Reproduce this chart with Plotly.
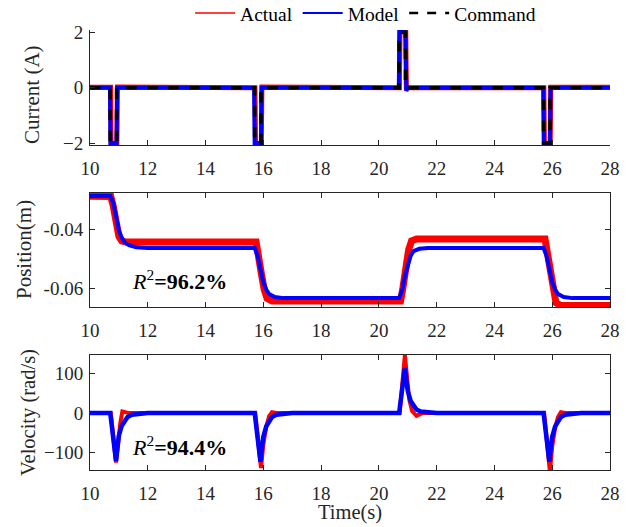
import plotly.graph_objects as go

# ---------------- data ----------------
t_cur_cmd = [10, 10.7, 10.7, 10.92, 10.92, 15.7, 15.7, 15.92, 15.92, 20.7, 20.7, 20.92, 20.92, 25.7, 25.7, 25.92, 25.92, 28]
i_cmd = [0, 0, -2, -2, 0, 0, -2, -2, 0, 0, 2, 2, 0, 0, -2, -2, 0, 0]

t_cur_model = [10, 10.69, 10.71, 10.92, 10.94, 15.68, 15.70, 15.92, 15.94, 20.69, 20.71, 20.92, 20.95, 21.0, 25.69, 25.71, 25.92, 25.94, 28]
i_model = [0, 0, -2.0, -2.0, 0, 0, -2.0, -2.0, 0, 0, 2.1, 2.0, -0.12, 0, 0, -2.0, -2.0, 0, 0]

t_cur_act = [10, 10.71, 10.73, 10.93, 10.95, 15.71, 15.73, 15.93, 15.95, 20.71, 20.73, 20.93, 20.95, 25.71, 25.73, 25.93, 25.95, 28]
i_act = [0.01, 0.01, -2.05, -2.07, 0.02, 0.0, -2.05, -2.07, 0.02, 0.0, 2.02, 2.0, 0.0, 0.0, -2.05, -2.08, 0.01, 0.01]

t_pos_model = [10, 10.7, 10.8, 10.9, 11.0, 11.1, 11.2, 11.35, 11.6, 12.0,
               15.7, 15.8, 15.9, 16.0, 16.1, 16.2, 16.4, 16.7,
               20.7, 20.8, 20.9, 21.0, 21.1, 21.2, 21.4, 21.7,
               25.7, 25.8, 25.9, 26.0, 26.1, 26.2, 26.4, 26.7, 28]
p_model = [-0.0288, -0.0288, -0.031, -0.036, -0.0405, -0.043, -0.0445, -0.0455, -0.0462, -0.0464,
           -0.0464, -0.049, -0.054, -0.058, -0.0605, -0.062, -0.0630, -0.0634,
           -0.0634, -0.061, -0.056, -0.052, -0.049, -0.0475, -0.0467, -0.0464,
           -0.0464, -0.049, -0.054, -0.058, -0.0605, -0.062, -0.0630, -0.0634, -0.0634]

t_pos_act = [10, 10.72, 10.8, 10.9, 11.0, 11.1, 11.25,
             15.75, 15.83, 15.93, 16.03, 16.13, 16.3,
             20.75, 20.83, 20.93, 21.03, 21.13, 21.3,
             25.75, 25.83, 25.93, 26.03, 26.13, 26.3, 28]
p_act = [-0.0289, -0.0290, -0.032, -0.038, -0.0425, -0.0440, -0.0444,
         -0.0444, -0.048, -0.055, -0.0605, -0.0635, -0.0644,
         -0.0644, -0.060, -0.053, -0.0470, -0.0440, -0.0434,
         -0.0434, -0.048, -0.056, -0.062, -0.0650, -0.0659, -0.0659]

t_vel_model = [10, 10.7, 10.9, 10.95, 11.0, 11.1, 11.2, 11.3, 11.45, 11.7, 12.0,
               15.7, 15.9, 15.95, 16.0, 16.1, 16.2, 16.3, 16.45, 16.7, 17.0,
               20.7, 20.9, 20.95, 21.0, 21.1, 21.2, 21.3, 21.45, 21.7, 22.0,
               25.7, 25.9, 25.95, 26.0, 26.1, 26.2, 26.3, 26.45, 26.7, 27.0, 28]
v_model = [0, 0, -122, -85, -57, -32, -18, -10, -4, -1, 0,
           0, -124, -88, -60, -34, -19, -10, -4, -1, 0,
           0, 115, 82, 56, 31, 17, 9, 4, 1, 0,
           0, -124, -88, -60, -34, -19, -10, -4, -1, 0, 0]

t_vel_act = [10, 10.72, 10.9, 10.97, 11.05, 11.12, 11.2, 11.35,
             15.72, 15.92, 16.0, 16.1, 16.2, 16.3, 16.45,
             20.72, 20.9, 20.97, 21.05, 21.15, 21.3, 21.5,
             25.72, 25.92, 26.0, 26.1, 26.2, 26.3, 26.45, 28]
v_act = [0, 0, -126, -75, -25, 4, 3, 0,
         0, -140, -80, -35, -8, 2, 0,
         0, 148, 90, 35, 5, -7, 0,
         0, -150, -85, -38, -10, 2, 0, 0]

x_ticks = [10, 12, 14, 16, 18, 20, 22, 24, 26, 28]
legend_names = ["Actual", "Model", "Command"]
r2_pos_text = "<i>R</i><sup>2</sup><b>=96.2%</b>"
r2_vel_text = "<i>R</i><sup>2</sup><b>=94.4%</b>"

# ---------------- styles ----------------
RED = "#ff0000"
BLUE = "#0000ff"
BLACK = "#000000"
AX = "#262626"
FONT = "'Liberation Serif', 'Times New Roman', Times, serif"

fig = go.Figure()

# legend-only entries (thin lines like the reference legend)
fig.add_trace(go.Scatter(x=[None], y=[None], mode="lines", name=legend_names[0],
                         line=dict(color=RED, width=1.5), xaxis="x", yaxis="y"))
fig.add_trace(go.Scatter(x=[None], y=[None], mode="lines", name=legend_names[1],
                         line=dict(color=BLUE, width=2), xaxis="x", yaxis="y"))
fig.add_trace(go.Scatter(x=[None], y=[None], mode="lines", name=legend_names[2],
                         line=dict(color=BLACK, width=2.5, dash="dash"), xaxis="x", yaxis="y"))

# Current panel
fig.add_trace(go.Scatter(x=t_cur_act, y=i_act, mode="lines", showlegend=False,
                         line=dict(color=RED, width=5), xaxis="x", yaxis="y"))
fig.add_trace(go.Scatter(x=t_cur_model, y=i_model, mode="lines", showlegend=False,
                         line=dict(color=BLUE, width=4), xaxis="x", yaxis="y"))
fig.add_trace(go.Scatter(x=t_cur_cmd, y=i_cmd, mode="lines", showlegend=False,
                         line=dict(color=BLACK, width=3.5, dash="dash"), xaxis="x", yaxis="y"))

# Position panel
fig.add_trace(go.Scatter(x=t_pos_act, y=p_act, mode="lines", showlegend=False,
                         line=dict(color=RED, width=7), xaxis="x2", yaxis="y2"))
fig.add_trace(go.Scatter(x=t_pos_model, y=p_model, mode="lines", showlegend=False,
                         line=dict(color=BLUE, width=4), xaxis="x2", yaxis="y2"))

# Velocity panel
fig.add_trace(go.Scatter(x=t_vel_act, y=v_act, mode="lines", showlegend=False,
                         line=dict(color=RED, width=4), xaxis="x3", yaxis="y3"))
fig.add_trace(go.Scatter(x=t_vel_model, y=v_model, mode="lines", showlegend=False,
                         line=dict(color=BLUE, width=4.5), xaxis="x3", yaxis="y3"))

axis_common = dict(showline=True, linecolor=AX, linewidth=1, ticks="inside", ticklen=5,
                   tickcolor=AX, showgrid=False, zeroline=False,
                   tickfont=dict(family=FONT, size=19, color=AX))
x_extra = dict(ticklabelstandoff=6)
y_extra = dict(ticklabelstandoff=2)

fig.update_layout(
    width=635, height=527,
    margin=dict(l=90, r=25, t=30, b=57, autoexpand=False),
    paper_bgcolor="white", plot_bgcolor="white",
    font=dict(family=FONT, size=19, color=AX),
    showlegend=True,
    legend=dict(orientation="h", x=0.53, xanchor="center", y=1.038, yanchor="middle",
                font=dict(family=FONT, size=19.5, color="#000000"), bgcolor="rgba(0,0,0,0)",
                itemwidth=40, tracegroupgap=0),
    xaxis=dict(domain=[0, 1], anchor="y", range=[10, 28], tickvals=x_ticks, mirror=False, **axis_common, **x_extra),
    yaxis=dict(domain=[0.7386, 1], anchor="x", range=[-2.07, 2.08], tickvals=[-2, 0, 2], mirror=False, **axis_common, **y_extra),
    xaxis2=dict(domain=[0, 1], anchor="y2", range=[10, 28], tickvals=x_ticks, mirror="ticks", **axis_common, **x_extra),
    yaxis2=dict(domain=[0.3705, 0.6295], anchor="x2", range=[-0.0664, -0.0278], tickvals=[-0.06, -0.04],
                ticktext=["-0.06", "-0.04"], mirror="ticks", **axis_common, **y_extra),
    xaxis3=dict(domain=[0, 1], anchor="y3", range=[10, 28], tickvals=x_ticks, mirror="ticks", **axis_common, **x_extra),
    yaxis3=dict(domain=[0, 0.2614], anchor="x3", range=[-145, 148], tickvals=[-100, 0, 100], mirror="ticks", **axis_common, **y_extra),
)

annotations = [
    dict(text=r2_pos_text, x=13.1, y=-0.0573, xref="x2", yref="y2", showarrow=False,
         font=dict(family=FONT, size=22, color="#000000")),
    dict(text=r2_vel_text, x=13.1, y=-84, xref="x3", yref="y3", showarrow=False,
         font=dict(family=FONT, size=22, color="#000000")),
    dict(text="Current (A)", x=(32 - 90) / 520, y=(470 - 95) / 440, xref="paper", yref="paper",
         textangle=-90, showarrow=False, xanchor="center", yanchor="middle",
         font=dict(family=FONT, size=21, color=AX)),
    dict(text="Position(m)", x=(24 - 90) / 520, y=(470 - 250) / 440, xref="paper", yref="paper",
         textangle=-90, showarrow=False, xanchor="center", yanchor="middle",
         font=dict(family=FONT, size=21, color=AX)),
    dict(text="Velocity (rad/s)", x=(28 - 90) / 520, y=(470 - 413) / 440, xref="paper", yref="paper",
         textangle=-90, showarrow=False, xanchor="center", yanchor="middle",
         font=dict(family=FONT, size=20.5, color=AX)),
    dict(text="Time(s)", x=(350 - 90) / 520, y=(470 - 512) / 440, xref="paper", yref="paper",
         showarrow=False, xanchor="center", yanchor="middle",
         font=dict(family=FONT, size=20.5, color=AX)),
]
fig.update_layout(annotations=annotations)

fig.write_html("out.html")
